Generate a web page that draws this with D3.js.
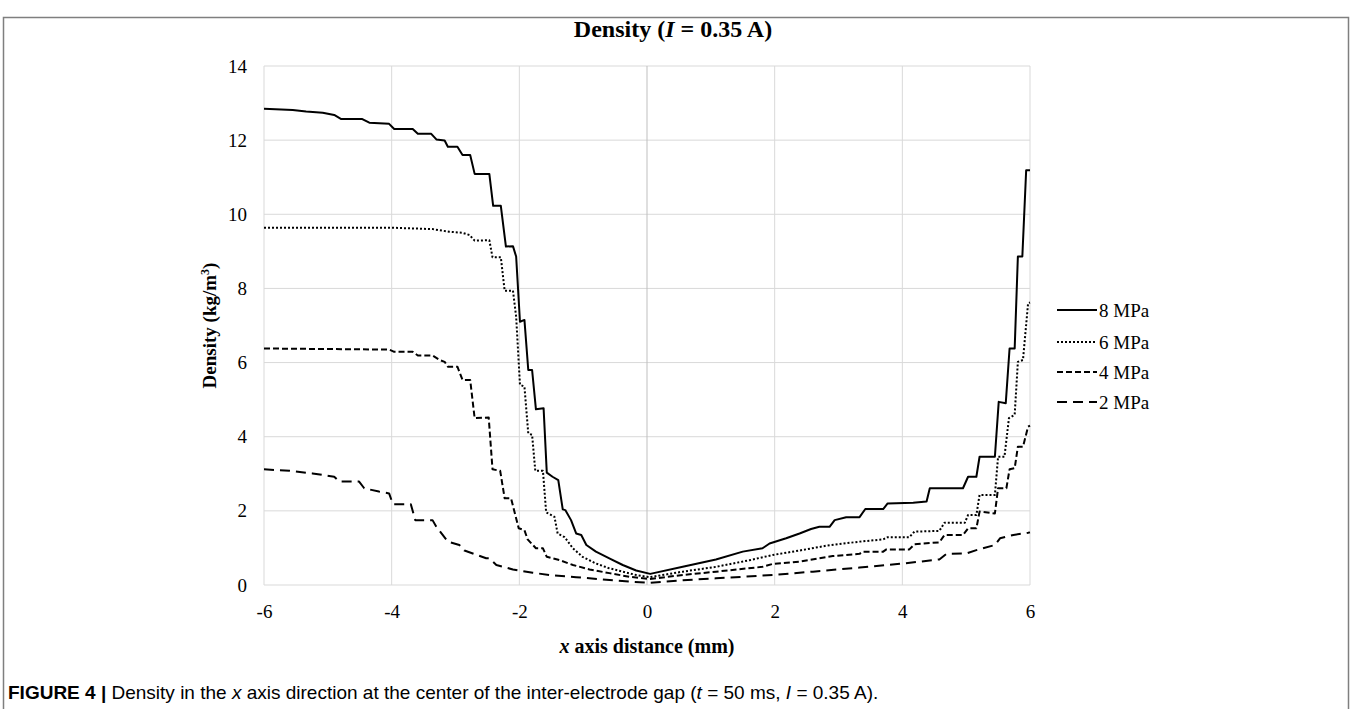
<!DOCTYPE html>
<html>
<head>
<meta charset="utf-8">
<script src="https://cdn.jsdelivr.net/npm/d3@7"></script>
<style>
  body { margin: 0; background: #fff; }
  svg text { font-family: "Liberation Serif", "Times New Roman", serif; fill: #000; }
</style>
</head>
<body>
<div id="density"></div>
<script>
// Density along x axis, I = 0.35 A
const xTicks = [-6, -4, -2, 0, 2, 4, 6];
const yTicks = [0, 2, 4, 6, 8, 10, 12, 14];
const seriesNames = ["8 MPa", "6 MPa", "4 MPa", "2 MPa"];

// [x (mm), density (kg/m3)]
const mpa8 = [[-6,12.85],[-5.55,12.81],[-5.34,12.77],[-5.08,12.74],[-4.90,12.68],[-4.79,12.57],[-4.46,12.57],[-4.35,12.47],[-4.04,12.44],[-3.96,12.30],[-3.67,12.30],[-3.59,12.17],[-3.38,12.17],[-3.30,12.02],[-3.17,11.99],[-3.12,11.82],[-2.97,11.82],[-2.89,11.60],[-2.77,11.60],[-2.70,11.09],[-2.47,11.09],[-2.41,10.23],[-2.29,10.23],[-2.21,9.13],[-2.10,9.14],[-2.05,8.86],[-1.99,7.10],[-1.92,7.15],[-1.86,5.80],[-1.80,5.80],[-1.74,4.74],[-1.62,4.77],[-1.57,3.03],[-1.48,2.92],[-1.39,2.83],[-1.32,2.04],[-1.28,2.02],[-1.19,1.75],[-1.11,1.39],[-1.03,1.35],[-0.95,1.08],[-0.80,0.90],[-0.59,0.72],[-0.38,0.54],[-0.17,0.39],[0.05,0.30],[0.56,0.49],[1.08,0.69],[1.50,0.90],[1.81,0.99],[1.92,1.12],[2.18,1.26],[2.39,1.39],[2.57,1.51],[2.70,1.57],[2.86,1.57],[2.94,1.75],[3.12,1.83],[3.33,1.83],[3.42,2.05],[3.70,2.05],[3.77,2.20],[4.17,2.22],[4.38,2.25],[4.43,2.61],[4.95,2.61],[5.03,2.92],[5.16,2.92],[5.21,3.46],[5.45,3.46],[5.51,4.94],[5.62,4.90],[5.68,6.38],[5.76,6.38],[5.81,8.86],[5.88,8.86],[5.94,11.19],[6,11.19]];
const mpa6 = [[-6,9.64],[-4.04,9.64],[-3.36,9.60],[-3.10,9.53],[-2.89,9.50],[-2.78,9.44],[-2.70,9.29],[-2.47,9.30],[-2.42,8.84],[-2.29,8.84],[-2.23,7.94],[-2.10,7.94],[-2.05,7.24],[-1.99,5.40],[-1.92,5.35],[-1.86,4.09],[-1.80,4.05],[-1.75,3.08],[-1.63,3.08],[-1.58,1.96],[-1.45,1.84],[-1.40,1.39],[-1.29,1.29],[-1.16,0.99],[-1.01,0.76],[-0.80,0.58],[-0.59,0.45],[-0.38,0.36],[-0.17,0.27],[0.04,0.21],[0.56,0.36],[1.08,0.49],[1.61,0.67],[1.97,0.81],[2.39,0.93],[2.81,1.06],[3.33,1.17],[3.70,1.23],[3.77,1.29],[4.11,1.29],[4.19,1.44],[4.58,1.46],[4.66,1.68],[4.98,1.68],[5.03,1.89],[5.16,1.89],[5.21,2.43],[5.45,2.43],[5.50,3.46],[5.60,3.46],[5.67,4.50],[5.76,4.59],[5.81,6.02],[5.89,6.07],[5.97,7.60],[6,7.62]];
const mpa4 = [[-6,6.38],[-4.04,6.35],[-3.96,6.29],[-3.67,6.29],[-3.59,6.19],[-3.36,6.19],[-3.25,6.07],[-3.17,6.02],[-3.12,5.89],[-2.97,5.89],[-2.89,5.53],[-2.77,5.53],[-2.70,4.50],[-2.48,4.52],[-2.42,3.12],[-2.30,3.08],[-2.23,2.34],[-2.13,2.34],[-2.01,1.53],[-1.92,1.48],[-1.87,1.23],[-1.74,0.99],[-1.63,0.99],[-1.57,0.76],[-1.37,0.67],[-1.16,0.54],[-0.90,0.42],[-0.59,0.32],[-0.27,0.22],[0.04,0.16],[0.56,0.27],[1.08,0.36],[1.81,0.49],[1.97,0.57],[2.39,0.63],[2.70,0.72],[2.91,0.78],[3.33,0.84],[3.38,0.90],[3.70,0.90],[3.75,0.96],[4.11,0.96],[4.19,1.10],[4.58,1.15],[4.66,1.35],[4.95,1.35],[5.03,1.53],[5.16,1.53],[5.21,1.98],[5.45,1.93],[5.50,2.61],[5.63,2.61],[5.68,3.12],[5.76,3.15],[5.81,3.73],[5.89,3.73],[5.97,4.27],[6,4.30]];
const mpa2 = [[-6,3.12],[-5.60,3.08],[-5.24,3.01],[-4.98,2.94],[-4.90,2.92],[-4.82,2.79],[-4.51,2.79],[-4.43,2.61],[-4.20,2.52],[-4.04,2.47],[-3.98,2.18],[-3.70,2.18],[-3.63,1.75],[-3.36,1.75],[-3.30,1.57],[-3.12,1.17],[-2.94,1.08],[-2.86,0.93],[-2.52,0.72],[-2.47,0.72],[-2.36,0.54],[-2.10,0.42],[-1.79,0.33],[-1.53,0.27],[-1.11,0.21],[-0.69,0.15],[-0.27,0.09],[0.04,0.06],[0.56,0.13],[1.08,0.18],[1.97,0.27],[2.60,0.36],[3.33,0.47],[3.96,0.57],[4.58,0.69],[4.69,0.84],[5.00,0.85],[5.16,0.94],[5.45,1.08],[5.53,1.26],[5.74,1.35],[5.97,1.41],[6,1.42]];

densityChart();

function densityChart() {
	const W = 1351, H = 709;
	const margin = {top: 66, right: 321, bottom: 124, left: 264},
		  width = W - margin.left - margin.right,
		  height = H - margin.top - margin.bottom;

	const root = d3.select("#density")
				   .append("svg")
				   .attr("width", W)
				   .attr("height", H);

	// outer frame (bottom edge is cut off in the figure)
	root.append("path")
		.attr("d", `M3.5,${H} V17.5 H1348.5 V${H}`)
		.attr("fill", "none")
		.attr("stroke", "#7f7f7f")
		.attr("stroke-width", 1.5);

	const svg = root.append("g")
					.attr("transform", `translate(${margin.left},${margin.top})`);

	const x = d3.scaleLinear().domain([-6, 6]).range([0, width]);
	const y = d3.scaleLinear().domain([0, 14]).range([height, 0]);

	// grid
	svg.append("g")
	   .selectAll("line")
	   .data(yTicks)
	   .enter()
	   .append("line")
	   .attr("x1", 0).attr("x2", width)
	   .attr("y1", d => y(d)).attr("y2", d => y(d))
	   .attr("stroke", "#d9d9d9")
	   .attr("stroke-width", 1);

	svg.append("g")
	   .selectAll("line")
	   .data(xTicks)
	   .enter()
	   .append("line")
	   .attr("x1", d => x(d)).attr("x2", d => x(d))
	   .attr("y1", 0).attr("y2", height)
	   .attr("stroke", d => d === 0 ? "#bfbfbf" : "#d9d9d9")
	   .attr("stroke-width", 1);

	// axes: labels only, Excel style, plain hyphen minus
	const fmt = d => String(d);
	const xAxis = svg.append("g")
					 .attr("transform", `translate(0,${height})`)
					 .call(d3.axisBottom(x).tickValues(xTicks).tickFormat(fmt).tickSize(0).tickPadding(20));
	const yAxis = svg.append("g")
					 .call(d3.axisLeft(y).tickValues(yTicks).tickFormat(fmt).tickSize(0).tickPadding(17));
	[xAxis, yAxis].forEach(a => {
		a.attr("font-family", null).attr("font-size", null);
		a.select(".domain").remove();
		a.selectAll("text")
		 .style("font-family", "'Liberation Serif', serif")
		 .style("font-size", "19px")
		 .attr("fill", "#000");
	});

	// series
	const series = [
		{name: seriesNames[0], data: mpa8, dash: null},
		{name: seriesNames[1], data: mpa6, dash: "2,2"},
		{name: seriesNames[2], data: mpa4, dash: "6,3"},
		{name: seriesNames[3], data: mpa2, dash: "10,6"}
	];

	const line = d3.line()
				   .x(d => x(d[0]))
				   .y(d => y(d[1]));

	svg.append("g")
	   .selectAll("path")
	   .data(series.slice().reverse())
	   .enter()
	   .append("path")
	   .attr("d", d => line(d.data))
	   .attr("fill", "none")
	   .attr("stroke", "#000")
	   .attr("stroke-width", 2)
	   .attr("stroke-linejoin", "round")
	   .attr("stroke-dasharray", d => d.dash);

	// legend
	const legend = root.append("g")
					   .attr("transform", "translate(1057,310)");
	const rows = legend.selectAll("g")
					   .data(series)
					   .enter()
					   .append("g")
					   .attr("transform", (d, i) => `translate(0,${[0, 32, 62, 92][i]})`);
	rows.append("line")
		.attr("x1", 0).attr("x2", 40)
		.attr("stroke", "#000")
		.attr("stroke-width", 2)
		.attr("stroke-dasharray", d => d.dash);
	rows.append("text")
		.attr("x", 42)
		.attr("dy", "0.35em")
		.style("font-size", "19px")
		.text(d => d.name);

	// title
	const title = root.append("text")
					  .attr("x", 673)
					  .attr("y", 37)
					  .attr("text-anchor", "middle")
					  .style("font-size", "24px")
					  .style("font-weight", "bold");
	title.append("tspan").text("Density (");
	title.append("tspan").style("font-style", "italic").text("I");
	title.append("tspan").text(" = 0.35 A)");

	// y label
	const yl = root.append("text")
				   .attr("transform", `translate(216,${margin.top + height / 2}) rotate(-90)`)
				   .attr("text-anchor", "middle")
				   .style("font-size", "19px")
				   .style("font-weight", "bold");
	yl.append("tspan").text("Density (kg/m");
	yl.append("tspan").attr("dy", -7).style("font-size", "12px").text("3");
	yl.append("tspan").attr("dy", 7).text(")");

	// x label
	const xl = root.append("text")
				   .attr("x", margin.left + width / 2)
				   .attr("y", 653)
				   .attr("text-anchor", "middle")
				   .style("font-size", "20px")
				   .style("font-weight", "bold");
	xl.append("tspan").style("font-style", "italic").text("x");
	xl.append("tspan").text(" axis distance (mm)");

	// caption
	const cap = root.append("text")
					.attr("x", 8)
					.attr("y", 699)
					.style("font-family", "'Liberation Sans', Arial, sans-serif")
					.style("font-size", "19px");
	cap.append("tspan").style("font-weight", "bold").text("FIGURE 4 | ");
	cap.append("tspan").text("Density in the ");
	cap.append("tspan").style("font-style", "italic").text("x");
	cap.append("tspan").text(" axis direction at the center of the inter-electrode gap (");
	cap.append("tspan").style("font-style", "italic").text("t");
	cap.append("tspan").text(" = 50 ms, ");
	cap.append("tspan").style("font-style", "italic").text("I");
	cap.append("tspan").text(" = 0.35 A).");
}
</script>
</body>
</html>
